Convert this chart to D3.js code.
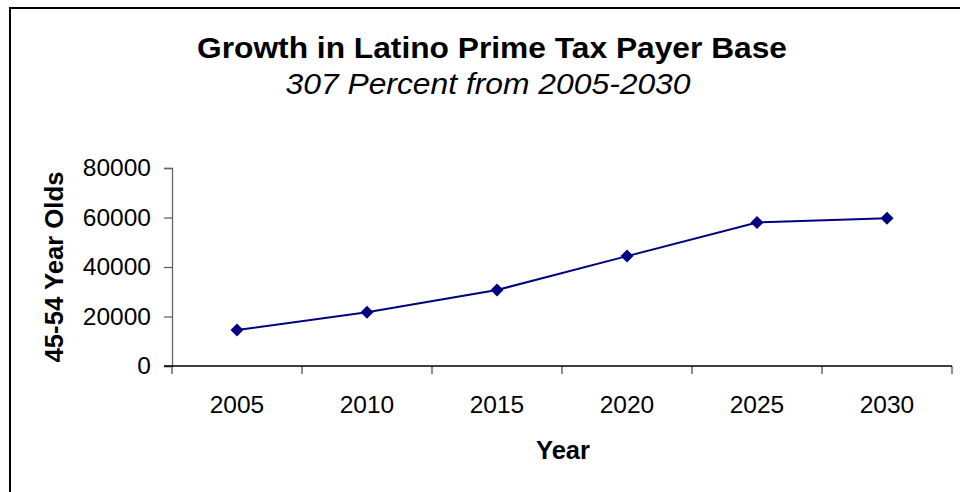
<!DOCTYPE html>
<html>
<head>
<meta charset="utf-8">
<script src="https://cdn.jsdelivr.net/npm/d3@7"></script>
<style>
  html, body { margin: 0; padding: 0; background: #fff; }
  svg { display: block; }
  text { font-family: "Liberation Sans", Arial, sans-serif; fill: #000; }
</style>
</head>
<body>
<svg id="chart" width="960" height="492"></svg>
<script>
const years = ["2005", "2010", "2015", "2020", "2025", "2030"];
const values = [14500, 21700, 30700, 44400, 58000, 59700];
const yTicks = [0, 20000, 40000, 60000, 80000];
const titleText = "Growth in Latino Prime Tax Payer Base";
const subtitleText = "307 Percent from 2005-2030";
const xTitle = "Year";
const yTitle = "45-54 Year Olds";

const svg = d3.select("#chart");

// outer chart border
svg.append("rect")
  .attr("x", 10).attr("y", 8)
  .attr("width", 960).attr("height", 500)
  .attr("fill", "#fff").attr("stroke", "#000").attr("stroke-width", 2);

const plot = { left: 172, right: 952, top: 168, bottom: 366 };

const x = d3.scaleBand().domain(years).range([plot.left, plot.right]).padding(0);
const y = d3.scaleLinear().domain([0, 80000]).range([plot.bottom, plot.top]);

// Y axis
const yAxis = svg.append("g")
  .attr("transform", `translate(${plot.left},0)`)
  .call(d3.axisLeft(y).tickValues(yTicks).tickSize(8).tickPadding(13).tickFormat(d3.format("d")));
yAxis.select(".domain").attr("stroke", "#666").attr("stroke-width", 1.3);
yAxis.selectAll(".tick line").attr("stroke", "#666").attr("stroke-width", 1.3);
yAxis.selectAll(".tick text")
  .attr("font-size", 24.5).attr("fill", "#000")
  .style("font-family", "'Liberation Sans', Arial, sans-serif");

// X axis with ticks at category boundaries
const xAxisG = svg.append("g").attr("transform", `translate(0,${plot.bottom})`);
const boundaries = years.map(d => x(d)).concat([x(years[years.length - 1]) + x.bandwidth()]);
xAxisG.selectAll("line.tk").data(boundaries).enter().append("line")
  .attr("class", "tk")
  .attr("x1", d => d).attr("x2", d => d)
  .attr("y1", 0).attr("y2", 8)
  .attr("stroke", "#666").attr("stroke-width", 1.5);
xAxisG.append("line")
  .attr("x1", plot.left - 8).attr("x2", plot.right)
  .attr("y1", 0).attr("y2", 0)
  .attr("stroke", "#000").attr("stroke-width", 1.5);
xAxisG.selectAll("text.lbl").data(years).enter().append("text")
  .attr("class", "lbl")
  .attr("x", d => x(d) + x.bandwidth() / 2)
  .attr("y", 47)
  .attr("text-anchor", "middle")
  .attr("font-size", 24.5)
  .text(d => d);

// line
const pts = years.map((yr, i) => ({ yr, v: values[i] }));
const line = d3.line()
  .x(d => x(d.yr) + x.bandwidth() / 2)
  .y(d => y(d.v));
svg.append("path").datum(pts)
  .attr("d", line)
  .attr("fill", "none")
  .attr("stroke", "#000080")
  .attr("stroke-width", 2);

// diamond markers
const r = 6.5;
svg.selectAll("path.mk").data(pts).enter().append("path")
  .attr("class", "mk")
  .attr("transform", d => `translate(${x(d.yr) + x.bandwidth() / 2},${y(d.v)})`)
  .attr("d", `M0,${-r}L${r},0L0,${r}L${-r},0Z`)
  .attr("fill", "#000080");

// titles
svg.append("text")
  .attr("x", 492).attr("y", 58)
  .attr("text-anchor", "middle")
  .attr("font-size", 30).attr("font-weight", "bold")
  .attr("textLength", 590).attr("lengthAdjust", "spacingAndGlyphs")
  .text(titleText);
svg.append("text")
  .attr("x", 488).attr("y", 94)
  .attr("text-anchor", "middle")
  .attr("font-size", 29).attr("font-style", "italic")
  .attr("textLength", 405).attr("lengthAdjust", "spacingAndGlyphs")
  .text(subtitleText);

// axis titles
svg.append("text")
  .attr("x", 563).attr("y", 459)
  .attr("text-anchor", "middle")
  .attr("font-size", 25.5).attr("font-weight", "bold")
  .text(xTitle);
svg.append("text")
  .attr("transform", "translate(63,267) rotate(-90)")
  .attr("text-anchor", "middle")
  .attr("font-size", 26).attr("font-weight", "bold")
  .attr("textLength", 191).attr("lengthAdjust", "spacingAndGlyphs")
  .text(yTitle);
</script>
</body>
</html>
